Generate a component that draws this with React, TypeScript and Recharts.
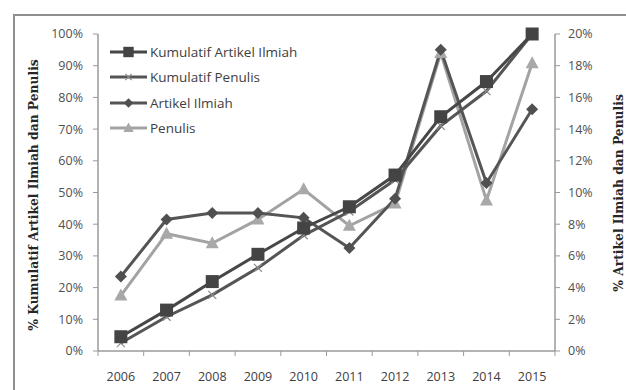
import { Line, LineChart, XAxis, YAxis } from "recharts";

const years = ["2006", "2007", "2008", "2009", "2010", "2011", "2012", "2013", "2014", "2015"];
// left axis: cumulative shares (%)
const kumulatifArtikel = [4.5, 12.9, 21.9, 30.5, 38.8, 45.5, 55.5, 73.9, 85.0, 100];
const kumulatifPenulis = [2.5, 10.8, 17.7, 26.2, 36.5, 44.0, 54.0, 71.0, 82.0, 100];
// right axis: yearly shares (%)
const artikelIlmiah = [4.7, 8.3, 8.7, 8.7, 8.4, 6.5, 9.6, 19.0, 10.6, 15.25];
const penulis = [3.5, 7.4, 6.8, 8.3, 10.2, 7.9, 9.3, 18.8, 9.5, 18.15];
const leftTicks = [0, 10, 20, 30, 40, 50, 60, 70, 80, 90, 100];
const rightTicks = [0, 2, 4, 6, 8, 10, 12, 14, 16, 18, 20];

const data = years.map((year, i) => ({
  year,
  "Kumulatif Artikel Ilmiah": kumulatifArtikel[i],
  "Kumulatif Penulis": kumulatifPenulis[i],
  "Artikel Ilmiah": artikelIlmiah[i],
  Penulis: penulis[i],
}));

const W = 626;
const H = 390;
const LEFT = 98;
const RIGHT = 71;
const TOP = 34;
const BOTTOM = 39;
const BAND = (W - LEFT - RIGHT) / years.length;
const AXIS_Y = H - BOTTOM;

const FONT = "'Open Sans', Lato, sans-serif";
const TITLE_FONT = "'DejaVu Serif', serif";
const AXIS_GRAY = "#9a9a9a";

const C_KA = "#474747";
const C_KP = "#555555";
const C_AI = "#555555";
const C_P = "#a3a3a3";

type Mark = "square" | "cross" | "diamond" | "triangle";

function Marker({ kind, cx, cy, s = 1 }: { kind: Mark; cx: number; cy: number; s?: number }) {
  if (kind === "square") {
    const h = 6.5 * s;
    return <rect x={cx - h} y={cy - h} width={2 * h} height={2 * h} fill="#444" />;
  }
  if (kind === "diamond") {
    const h = 6 * s;
    return (
      <polygon
        points={`${cx},${cy - h} ${cx + h},${cy} ${cx},${cy + h} ${cx - h},${cy}`}
        fill="#505050"
      />
    );
  }
  if (kind === "triangle") {
    return (
      <polygon
        points={`${cx},${cy - 7 * s} ${cx + 6.5 * s},${cy + 5 * s} ${cx - 6.5 * s},${cy + 5 * s}`}
        fill="#a8a8a8"
      />
    );
  }
  const h = 4 * s;
  return (
    <g stroke="#8a8a8a" strokeWidth={1.2}>
      <line x1={cx - h} y1={cy - h} x2={cx + h} y2={cy + h} />
      <line x1={cx - h} y1={cy + h} x2={cx + h} y2={cy - h} />
    </g>
  );
}

const dotOf = (kind: Mark) => (p: any) =>
  p.cx == null ? <g key={p.index} /> : <Marker key={p.index} kind={kind} cx={p.cx} cy={p.cy} />;

const legendRows: { name: string; color: string; kind: Mark }[] = [
  { name: "Kumulatif Artikel Ilmiah", color: C_KA, kind: "square" },
  { name: "Kumulatif Penulis", color: C_KP, kind: "cross" },
  { name: "Artikel Ilmiah", color: C_AI, kind: "diamond" },
  { name: "Penulis", color: C_P, kind: "triangle" },
];

function LegendBox() {
  return (
    <div
      style={{
        position: "absolute",
        left: 109,
        top: 39,
        fontFamily: FONT,
        fontSize: 13.5,
        color: "#404040",
      }}
    >
      {legendRows.map((r) => (
        <div key={r.name} style={{ display: "flex", alignItems: "center", height: 25.5 }}>
          <svg width={40} height={16}>
            <line x1={1} y1={8} x2={38} y2={8} stroke={r.color} strokeWidth={3} />
            <Marker kind={r.kind} cx={19.5} cy={8} s={0.8} />
          </svg>
          <span style={{ marginLeft: 1, whiteSpace: "nowrap" }}>{r.name}</span>
        </div>
      ))}
    </div>
  );
}

function YearTick(p: any) {
  const last = p.index === years.length - 1;
  return (
    <g>
      <line x1={p.x - BAND / 2} y1={AXIS_Y} x2={p.x - BAND / 2} y2={AXIS_Y + 5} stroke={AXIS_GRAY} />
      {last && (
        <line x1={p.x + BAND / 2} y1={AXIS_Y} x2={p.x + BAND / 2} y2={AXIS_Y + 5} stroke={AXIS_GRAY} />
      )}
      <text x={p.x} y={AXIS_Y + 30} textAnchor="middle" fontFamily={FONT} fontSize={12.5} fill="#404040">
        {p.payload.value}
      </text>
    </g>
  );
}

const titleStyle = { fontFamily: TITLE_FONT, fontSize: 12.3, fontWeight: 700, fill: "#262626" };

export default function App() {
  return (
    <div style={{ position: "absolute", left: 0, top: 0, width: W, height: H, overflow: "hidden", background: "#fff" }}>
      <div
        style={{
          position: "absolute",
          left: 13,
          top: 14,
          width: 800,
          height: 600,
          borderTop: "2px solid #8f8f8f",
          borderLeft: "2px solid #8f8f8f",
        }}
      />
      <LineChart
        width={W}
        height={H}
        data={data}
        margin={{ top: TOP, right: 0, bottom: 0, left: 0 }}
        style={{ position: "absolute", left: 0, top: 0 }}
      >
        <XAxis
          dataKey="year"
          scale="band"
          height={BOTTOM}
          tickLine={false}
          tick={YearTick}
          axisLine={{ stroke: AXIS_GRAY, strokeWidth: 1.5 }}
          interval={0}
        />
        <YAxis
          yAxisId="left"
          width={LEFT}
          domain={[0, 100]}
          ticks={leftTicks}
          tickFormatter={(v) => `${v}%`}
          tickSize={5}
          tickMargin={10}
          tickLine={{ stroke: AXIS_GRAY }}
          axisLine={{ stroke: AXIS_GRAY, strokeWidth: 1.5 }}
          tick={{ fontFamily: FONT, fontSize: 12.5, fill: "#505050" }}
          label={() => (
            <text transform="translate(33,195) rotate(-90)" textAnchor="middle" dominantBaseline="central" style={titleStyle}>
              % Kumulatif Artikel Ilmiah dan Penulis
            </text>
          )}
        />
        <YAxis
          yAxisId="right"
          orientation="right"
          width={RIGHT}
          domain={[0, 20]}
          ticks={rightTicks}
          tickFormatter={(v) => `${v}%`}
          tickSize={5}
          tickMargin={8}
          tickLine={{ stroke: AXIS_GRAY }}
          axisLine={{ stroke: AXIS_GRAY, strokeWidth: 1.5 }}
          tick={{ fontFamily: FONT, fontSize: 12.5, fill: "#505050", textAnchor: "start" }}
          label={() => (
            <text transform="translate(618,193) rotate(-90)" textAnchor="middle" dominantBaseline="central" style={titleStyle}>
              % Artikel Ilmiah dan Penulis
            </text>
          )}
        />
        <Line
          yAxisId="right"
          dataKey="Penulis"
          stroke={C_P}
          strokeWidth={3}
          dot={dotOf("triangle")}
          isAnimationActive={false}
        />
        <Line
          yAxisId="right"
          dataKey="Artikel Ilmiah"
          stroke={C_AI}
          strokeWidth={3}
          dot={dotOf("diamond")}
          isAnimationActive={false}
        />
        <Line
          yAxisId="left"
          dataKey="Kumulatif Penulis"
          stroke={C_KP}
          strokeWidth={3}
          dot={dotOf("cross")}
          isAnimationActive={false}
        />
        <Line
          yAxisId="left"
          dataKey="Kumulatif Artikel Ilmiah"
          stroke={C_KA}
          strokeWidth={3}
          dot={dotOf("square")}
          isAnimationActive={false}
        />
      </LineChart>
      <LegendBox />
    </div>
  );
}
